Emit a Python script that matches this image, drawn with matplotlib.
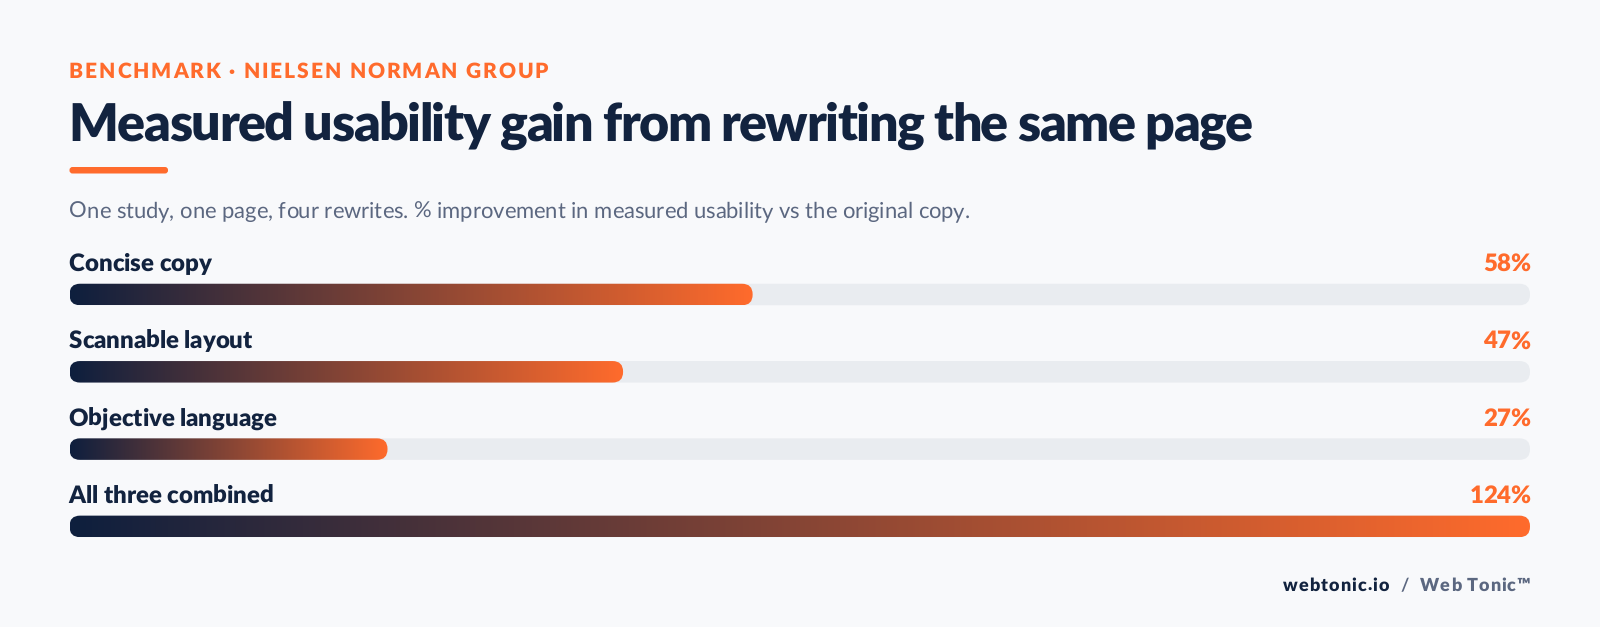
import matplotlib
matplotlib.use('Agg')
import matplotlib.pyplot as plt
from matplotlib.colors import LinearSegmentedColormap
from matplotlib.patches import FancyBboxPatch
from matplotlib.text import Text
from matplotlib.transforms import IdentityTransform, offset_copy
import numpy as np

labels = ['Concise copy', 'Scannable layout', 'Objective language', 'All three combined']
values = [58, 47, 27, 124]
max_value = 124

eyebrow = 'BENCHMARK · NIELSEN NORMAN GROUP'
title = 'Measured usability gain from rewriting the same page'
subtitle = 'One study, one page, four rewrites. % improvement in measured usability vs the original copy.'

NAVY = '#12233f'
BAR_START = '#0e1f3e'
ORANGE = '#ff6b2c'
GREY = '#5b6780'
BG = '#f8f9fb'
TRACK = '#e9ecf0'

W, H = 1600, 627
plt.rcParams['font.family'] = ['Lato', 'DejaVu Sans']
plt.rcParams['text.hinting'] = 'no_hinting'
plt.rcParams['text.hinting_factor'] = 1

fig = plt.figure(figsize=(W / 100, H / 100), dpi=100, facecolor=BG)


class TrackedText(Text):
    # one text object, drawn letter by letter with extra pixels between letters
    tracking = 0

    def draw(self, renderer):
        s = self.get_text()
        prop = self.get_fontproperties()
        x, y = self.get_transform().transform(self.get_position())
        width = lambda t: renderer.get_text_width_height_descent(t, prop, False)[0]
        if self.get_ha() == 'right':
            x -= width(s) + self.tracking * (len(s) - 1)
        for i, ch in enumerate(s):
            if ch == ' ':
                continue
            pos = x + width(s[:i + 1]) - width(ch) + self.tracking * i
            t = Text(pos, y, ch, color=self.get_color(), fontproperties=prop,
                     va='baseline', ha='left', transform=IdentityTransform())
            t.set_figure(self.get_figure())
            t.draw(renderer)


def fig_text(x, y, s, size, tracking=0, ha='left', **kw):
    # x, y in pixels from top left, y is the baseline
    t = TrackedText(x / W, 1 - y / H, s, fontsize=size * 0.72, va='baseline', ha=ha,
                    transform=fig.transFigure, **kw)
    t.tracking = tracking
    fig.add_artist(t)
    return t


fig_text(69, 78, eyebrow, 21, tracking=1.87, color=ORANGE, fontweight=800)
fig_text(68.5, 141, title, 52, tracking=-1.45, color=NAVY, fontweight=800)
fig_text(69, 218, subtitle, 22, tracking=-0.05, color=GREY)

fig_text(1283, 591, 'webtonic.io', 18, tracking=1.05, color=NAVY, fontweight=800)
fig_text(1400, 591, '/', 18, color=GREY, fontweight='bold')
fig_text(1530, 591, 'Web Tonic™', 18, tracking=0.85, ha='right', color=GREY, fontweight=800)

# accent rule under the title
rule = fig.add_axes([0, 0, 1, 1], facecolor='none')
rule.set_xlim(0, W)
rule.set_ylim(H, 0)
rule.axis('off')
rule.add_patch(FancyBboxPatch((69.5, 167), 98.5, 6.5, boxstyle='round,pad=0,rounding_size=3',
                              fc=ORANGE, ec='none'))

# bars: x is the value, y is the row index
row_h = 77.3
first_y = 294.5
bar_h = 21.5 / row_h
ax = fig.add_axes([69.5 / W, 0, 1460.5 / W, 1], facecolor='none')
ax.axis('off')

aspect = (1 / row_h) / (max_value / 1460.5)
radius = 10.5 * max_value / 1460.5
cmap = LinearSegmentedColormap.from_list('bar', [BAR_START, ORANGE])
grad = np.linspace(0, 1, 512).reshape(1, -1)

for i, (name, val) in enumerate(zip(labels, values)):
    box = dict(boxstyle=f'round,pad=0,rounding_size={radius}', mutation_aspect=aspect, ec='none')
    ax.add_patch(FancyBboxPatch((0, i - bar_h / 2), max_value, bar_h, fc=TRACK, **box))
    fill = FancyBboxPatch((0, i - bar_h / 2), val, bar_h, fc='none', **box)
    ax.add_patch(fill)
    im = ax.imshow(grad, cmap=cmap, aspect='auto', interpolation='bilinear', zorder=2,
                   extent=(0, val, i + bar_h / 2, i - bar_h / 2))
    im.set_clip_path(fill)

ax.set_xlim(0, max_value)
ax.set_ylim((H - first_y) / row_h, -first_y / row_h)

# row labels sit a fixed distance above each bar
left = offset_copy(ax.transData, fig=fig, x=-0.8 * 0.72, y=23.5 * 0.72, units='points')
right = offset_copy(ax.transData, fig=fig, x=0, y=23.5 * 0.72, units='points')
for i, (name, val) in enumerate(zip(labels, values)):
    t = TrackedText(0, i, name, fontsize=24 * 0.72, fontweight=800, color=NAVY, va='baseline', transform=left)
    t.tracking = -0.05
    ax.add_artist(t)
    t = TrackedText(max_value, i, f'{val}%', fontsize=24 * 0.72, fontweight=800, color=ORANGE, va='baseline',
                    ha='right', transform=right)
    t.tracking = -0.5
    ax.add_artist(t)

fig.savefig('out.png', dpi=100, facecolor=BG)
